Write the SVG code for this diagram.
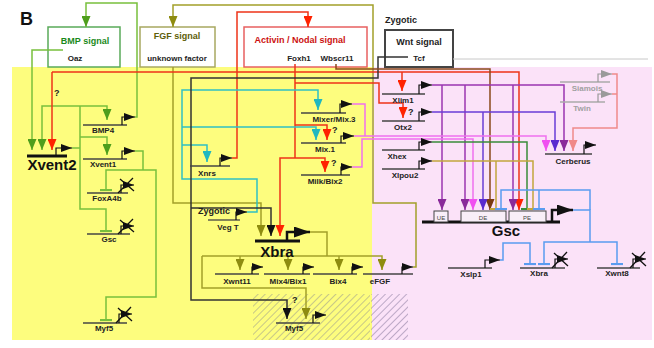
<svg xmlns="http://www.w3.org/2000/svg" width="654" height="348" viewBox="0 0 654 348">
<defs>
<style>
text{font-family:"Liberation Sans",Arial,sans-serif;font-weight:bold}
.lb{font-size:8px;text-anchor:middle;fill:#222}
.big{font-size:15px;text-anchor:middle;fill:#111}
.bl{stroke:#444;stroke-width:1.3;fill:none}
.tb{stroke:#111;stroke-width:3;fill:none}
.pr{stroke:#111;stroke-width:1.2;fill:none;marker-end:url(#pa)}
.pr2{stroke:#111;stroke-width:2.5;fill:none;marker-end:url(#pb)}
.x{stroke:#111;stroke-width:1.3}
.c{fill:none;stroke-width:1.5}
.g{stroke:#78c03c}
.o{stroke:#a3a02a}
.r{stroke:#ee3318}
.cy{stroke:#2fc0c4}
.k{stroke:#333}
.n{stroke:#8b4a1a}
.p{stroke:#9b35b0}
.bp{stroke:#6a3cd6}
.m{stroke:#f070ee}
.dg{stroke:#3a8c3a}
.kh{stroke:#c2a63c}
.s{stroke:#f08a8a}
.b{stroke:#5a9cf0}
.box{fill:#fff;stroke-width:1.5}
</style>
<marker id="aG" viewBox="0 0 11 9" refX="11" refY="4.5" markerWidth="11" markerHeight="9" markerUnits="userSpaceOnUse" orient="auto"><path d="M0,0L11,4.5L0,9z" fill="#4e9e1c"/></marker>
<marker id="aO" viewBox="0 0 11 9" refX="11" refY="4.5" markerWidth="11" markerHeight="9" markerUnits="userSpaceOnUse" orient="auto"><path d="M0,0L11,4.5L0,9z" fill="#8e8c10"/></marker>
<marker id="aR" viewBox="0 0 11 9" refX="11" refY="4.5" markerWidth="11" markerHeight="9" markerUnits="userSpaceOnUse" orient="auto"><path d="M0,0L11,4.5L0,9z" fill="#ff2200"/></marker>
<marker id="aC" viewBox="0 0 11 9" refX="11" refY="4.5" markerWidth="11" markerHeight="9" markerUnits="userSpaceOnUse" orient="auto"><path d="M0,0L11,4.5L0,9z" fill="#20b8c0"/></marker>
<marker id="aK" viewBox="0 0 11 9" refX="11" refY="4.5" markerWidth="11" markerHeight="9" markerUnits="userSpaceOnUse" orient="auto"><path d="M0,0L11,4.5L0,9z" fill="#111"/></marker>
<marker id="aN" viewBox="0 0 11 9" refX="11" refY="4.5" markerWidth="11" markerHeight="9" markerUnits="userSpaceOnUse" orient="auto"><path d="M0,0L11,4.5L0,9z" fill="#7a3a10"/></marker>
<marker id="aP" viewBox="0 0 11 9" refX="11" refY="4.5" markerWidth="11" markerHeight="9" markerUnits="userSpaceOnUse" orient="auto"><path d="M0,0L11,4.5L0,9z" fill="#8a2a9a"/></marker>
<marker id="aBP" viewBox="0 0 11 9" refX="11" refY="4.5" markerWidth="11" markerHeight="9" markerUnits="userSpaceOnUse" orient="auto"><path d="M0,0L11,4.5L0,9z" fill="#5a2ad0"/></marker>
<marker id="aM" viewBox="0 0 11 9" refX="11" refY="4.5" markerWidth="11" markerHeight="9" markerUnits="userSpaceOnUse" orient="auto"><path d="M0,0L11,4.5L0,9z" fill="#f050f0"/></marker>
<marker id="aS" viewBox="0 0 11 9" refX="11" refY="4.5" markerWidth="11" markerHeight="9" markerUnits="userSpaceOnUse" orient="auto"><path d="M0,0L11,4.5L0,9z" fill="#f08888"/></marker>
<marker id="pa" viewBox="0 0 11 8" refX="11" refY="4" markerWidth="11" markerHeight="8" markerUnits="userSpaceOnUse" orient="auto"><path d="M0,0L11,4L0,8z" fill="#111"/></marker>
<marker id="pb" viewBox="0 0 16 11" refX="16" refY="5.5" markerWidth="16" markerHeight="11" markerUnits="userSpaceOnUse" orient="auto"><path d="M0,0L16,5.5L0,11z" fill="#111"/></marker>
<marker id="pg" viewBox="0 0 11 8" refX="11" refY="4" markerWidth="11" markerHeight="8" markerUnits="userSpaceOnUse" orient="auto"><path d="M0,0L11,4L0,8z" fill="#9a9a9a"/></marker>
<marker id="tG" viewBox="0 0 3 12" refX="1.5" refY="6" markerWidth="3" markerHeight="12" markerUnits="userSpaceOnUse" orient="auto"><path d="M1.5,0V12" stroke="#78c03c" stroke-width="2.2"/></marker>
<marker id="tB" viewBox="0 0 3 12" refX="1.5" refY="6" markerWidth="3" markerHeight="12" markerUnits="userSpaceOnUse" orient="auto"><path d="M1.5,0V12" stroke="#5a9cf0" stroke-width="2.2"/></marker>
<marker id="tDG" viewBox="0 0 3 12" refX="1.5" refY="6" markerWidth="3" markerHeight="12" markerUnits="userSpaceOnUse" orient="auto"><path d="M1.5,0V12" stroke="#3a8c3a" stroke-width="2.2"/></marker>
<marker id="tKH" viewBox="0 0 3 12" refX="1.5" refY="6" markerWidth="3" markerHeight="12" markerUnits="userSpaceOnUse" orient="auto"><path d="M1.5,0V12" stroke="#c2a63c" stroke-width="2.2"/></marker>
<pattern id="hY" width="5" height="5" patternUnits="userSpaceOnUse" patternTransform="rotate(45)"><line x1="0" y1="0" x2="0" y2="5" stroke="#a9a98c" stroke-width="1.3"/></pattern>
<pattern id="hP" width="5" height="5" patternUnits="userSpaceOnUse" patternTransform="rotate(45)"><line x1="0" y1="0" x2="0" y2="5" stroke="#9a8aac" stroke-width="1.3"/></pattern>
</defs>

<rect width="654" height="348" fill="#fff"/>
<g id="background">
<rect x="12" y="67" width="360" height="273" fill="#fdfd7e"/>
<rect x="372" y="67" width="280" height="273" fill="#fbe2f8"/>
<rect x="253" y="294" width="117" height="46" fill="url(#hY)"/>
<rect x="371" y="294" width="37" height="46" fill="url(#hP)"/>
</g>
<text x="20" y="25" style="font-size:18px" fill="#111">B</text>

<g id="bmp-signal">
<rect class="box" x="48" y="27" width="72" height="40" stroke="#5aaa5a"/>
<text x="85" y="44" style="font-size:9px" text-anchor="middle" fill="#1a8a1a">BMP signal</text>
<text class="lb" x="75" y="61">Oaz</text>
</g>
<g id="fgf-signal">
<rect class="box" x="140" y="27" width="75" height="40" stroke="#a8a860"/>
<text x="177" y="39" style="font-size:9px" text-anchor="middle" fill="#5e5e08">FGF signal</text>
<text class="lb" x="177" y="61">unknown factor</text>
</g>
<g id="activin-signal">
<rect class="box" x="244" y="27" width="123" height="40" stroke="#e86060"/>
<text x="300" y="43" style="font-size:9px" text-anchor="middle" fill="#cc1010">Activin / Nodal signal</text>
<text class="lb" x="299" y="61">Foxh1</text>
<text class="lb" x="337" y="61">Wbscr11</text>
</g>
<g id="wnt-signal">
<text x="401" y="23" style="font-size:9px" text-anchor="middle" fill="#222">Zygotic</text>
<rect class="box" x="385" y="30" width="68" height="37" stroke="#444" style="stroke-width:2"/>
<text x="419" y="45" style="font-size:9px" text-anchor="middle" fill="#222">Wnt signal</text>
<text class="lb" x="419" y="61">Tcf</text>
</g>

<g id="connectors">
<path d="M453,59H648" stroke="#c8c8c8" stroke-width="1" fill="none"/>
<!-- green -->
<path class="c g" d="M63,50H32V150" marker-end="url(#aG)"/>
<path class="c g" d="M135,117H137V3H86V27" marker-end="url(#aG)"/>
<path class="c g" d="M72,148H80"/>
<path class="c g" d="M80,106V209H106V231" marker-end="url(#tG)"/>
<path class="c g" d="M80,106H42V150" marker-end="url(#aG)"/>
<path class="c g" d="M80,106H107V120" marker-end="url(#aG)"/>
<path class="c g" d="M80,137H107V155" marker-end="url(#aG)"/>
<path class="c g" d="M135,151H143V170"/>
<path class="c g" d="M143,170H106V190" marker-end="url(#tG)"/>
<path class="c g" d="M143,170H156V297H106V320" marker-end="url(#tG)"/>
<!-- olive -->
<path class="c o" d="M173,67V203H261V236" marker-end="url(#aO)"/>
<path class="c o" d="M413,267H416V203H373V5H173V27" marker-end="url(#aO)"/>
<path class="c o" d="M310,232H327V256"/>
<path class="c o" d="M202,256H382V270" marker-end="url(#aO)"/>
<path class="c o" d="M240,256V270" marker-end="url(#aO)"/>
<path class="c o" d="M288,256V270" marker-end="url(#aO)"/>
<path class="c o" d="M339,256V270" marker-end="url(#aO)"/>
<path class="c o" d="M202,256V288H306V319" marker-end="url(#aO)"/>
<!-- red -->
<path class="c r" d="M232,158H237V12H308V27" marker-end="url(#aR)"/>
<path class="c r" d="M52,72V150" marker-end="url(#aR)"/>
<path class="c r" d="M52,72H519V210" marker-end="url(#aR)"/>
<path class="c r" d="M402,72V91" marker-end="url(#aR)"/>
<path class="c r" d="M295,64V158"/>
<path class="c r" d="M295,125H327V140" marker-end="url(#aR)"/>
<path class="c r" d="M295,158H325V172" marker-end="url(#aR)"/>
<path class="c r" d="M295,158H280V236" marker-end="url(#aR)"/>
<path class="c r" d="M295,83H379V103H403V118" marker-end="url(#aR)"/>
<!-- cyan -->
<path class="c cy" d="M247,212H257V179H182V90H318V110" marker-end="url(#aC)"/>
<path class="c cy" d="M182,127H316V140" marker-end="url(#aC)"/>
<path class="c cy" d="M182,145H207V162" marker-end="url(#aC)"/>
<!-- black (Tcf) -->
<path class="c k" d="M408,57H378V78H191V300H287V319" marker-end="url(#aK)"/>
<path class="c k" d="M191,208H271V236" marker-end="url(#aK)"/>
<!-- brown (Wbscr11) -->
<path class="c n" d="M336,64V69H490V210" marker-end="url(#aN)"/>
<!-- purple (Xlim1) -->
<path class="c p" d="M432,85H564V151" marker-end="url(#aP)"/>
<path class="c p" d="M442,85V210" marker-end="url(#aP)"/>
<path class="c p" d="M465,85V210" marker-end="url(#aP)"/>
<path class="c p" d="M513,85V210" marker-end="url(#aP)"/>
<!-- blue-purple (Otx2) -->
<path class="c bp" d="M432,112H555V151" marker-end="url(#aBP)"/>
<path class="c bp" d="M483,112V210" marker-end="url(#aBP)"/>
<!-- magenta (Mixer, Mix.1, Milk) -->
<path class="c m" d="M352,104H365V136"/>
<path class="c m" d="M354,136H546V151" marker-end="url(#aM)"/>
<path class="c m" d="M352,167H362V139H473V210" marker-end="url(#aM)"/>
<!-- Xhex -->
<path class="c dg" d="M432,142H527V209" marker-end="url(#tDG)"/>
<!-- Xlpou2 -->
<path class="c kh" d="M432,161H533V209" marker-end="url(#tKH)"/>
<path class="c kh" d="M496,161V209" marker-end="url(#tKH)"/>
<!-- Siamois / Twin -->
<path class="c s" d="M612,74H617V128H573V151" marker-end="url(#aS)"/>
<path class="c s" d="M612,94H617"/>
<!-- blue (Gsc, Xslp1) -->
<path class="c b" d="M573,210H590V242"/>
<path class="c b" d="M590,210V190H501V209" marker-end="url(#tB)"/>
<path class="c b" d="M539,190V209" marker-end="url(#tB)"/>
<path class="c b" d="M590,242H617V264" marker-end="url(#tB)"/>
<path class="c b" d="M590,242H544V264" marker-end="url(#tB)"/>
<path class="c b" d="M500,260H503V243H530V264" marker-end="url(#tB)"/>
</g>

<g id="question-marks" style="font-size:9px" fill="#222">
<text x="54" y="96">?</text>
<text x="332" y="133">?</text>
<text x="331" y="166">?</text>
<text x="408" y="115">?</text>
<text x="292" y="303">?</text>
</g>

<g id="gene-Xvent2"><path class="tb" d="M27,156H67"/><path class="pr" d="M56,156V148H72"/><text class="big" x="52" y="170">Xvent2</text></g>
<g id="gene-BMP4"><path class="bl" d="M83,125H127"/><path class="pr" d="M122,125V117H135"/><text class="lb" x="103" y="133">BMP4</text></g>
<g id="gene-Xvent1"><path class="bl" d="M83,159H127"/><path class="pr" d="M122,159V151H135"/><text class="lb" x="103" y="167">Xvent1</text></g>
<g id="gene-FoxA4b"><path class="bl" d="M87,193H128"/><path class="pr" d="M121,193V185H134"/><path class="x" d="M118,193L133,178M120,179L134,191"/><text class="lb" x="107" y="201">FoxA4b</text></g>
<g id="gene-Gsc-yellow"><path class="bl" d="M87,234H130"/><path class="pr" d="M121,234V226H134"/><path class="x" d="M118,234L133,219M120,220L134,232"/><text class="lb" x="109" y="242">Gsc</text></g>
<g id="gene-Myf5-yellow"><path class="bl" d="M83,323H127"/><path class="pr" d="M119,323V314H132"/><path class="x" d="M116,323L131,307M118,308L132,321"/><text class="lb" x="104" y="331">Myf5</text></g>
<g id="gene-Xnrs"><path class="bl" d="M190,166H230"/><path class="pr" d="M220,166V158H232"/><text class="lb" x="207" y="176">Xnrs</text></g>
<g id="gene-Mixer"><path class="bl" d="M301,113H346"/><path class="pr" d="M340,113V104H352"/><text class="lb" x="334" y="122">Mixer/Mix.3</text></g>
<g id="gene-Mix1"><path class="bl" d="M301,143H346"/><path class="pr" d="M341,143V136H354"/><text class="lb" x="325" y="152">Mix.1</text></g>
<g id="gene-Milk"><path class="bl" d="M301,175H350"/><path class="pr" d="M341,175V167H352"/><text class="lb" x="325" y="184">Milk/Bix2</text></g>
<g id="gene-VegT"><text x="214" y="214" style="font-size:9px" text-anchor="middle" fill="#222">Zygotic</text><path class="bl" d="M208,220H240"/><path class="pr" d="M236,220V212H247"/><text class="lb" x="228" y="230">Veg T</text></g>
<g id="gene-Xbra"><path class="tb" d="M255,241H300"/><path class="pr2" d="M287,241V232H310"/><text class="big" x="277" y="257">Xbra</text></g>
<g id="gene-Xwnt11"><path class="bl" d="M215,274H259"/><path class="pr" d="M252,274V267H263"/><text class="lb" x="237" y="284">Xwnt11</text></g>
<g id="gene-Mix4"><path class="bl" d="M264,274H310"/><path class="pr" d="M303,274V267H314"/><text class="lb" x="288" y="284">Mix4/Bix1</text></g>
<g id="gene-Bix4"><path class="bl" d="M313,274H357"/><path class="pr" d="M352,274V267H363"/><text class="lb" x="338" y="284">Bix4</text></g>
<g id="gene-eFGF"><path class="bl" d="M363,274H413"/><path class="pr" d="M402,274V267H413"/><text class="lb" x="380" y="284">eFGF</text></g>
<g id="gene-Myf5"><path class="bl" d="M276,323H320"/><path class="pr" d="M313,323V315H326"/><text class="lb" x="294" y="331">Myf5</text></g>
<g id="gene-Xlim1"><path class="bl" d="M382,94H425"/><path class="pr" d="M419,94V85H432"/><text class="lb" x="403" y="103">Xlim1</text></g>
<g id="gene-Otx2"><path class="bl" d="M382,121H425"/><path class="pr" d="M419,121V112H432"/><text class="lb" x="403" y="130">Otx2</text></g>
<g id="gene-Xhex"><path class="bl" d="M382,150H425"/><path class="pr" d="M419,150V142H432"/><text class="lb" x="397" y="159">Xhex</text></g>
<g id="gene-Xlpou2"><path class="bl" d="M382,169H425"/><path class="pr" d="M419,169V161H432"/><text class="lb" x="405" y="178">Xlpou2</text></g>
<g id="gene-Siamois"><path d="M560,82H610" stroke="#aaa" stroke-width="1.3"/><path d="M598,82V74H612" stroke="#9a9a9a" stroke-width="1.2" fill="none" marker-end="url(#pg)"/><text class="lb" x="587" y="91" fill="#a0a0a0" style="fill:#a0a0a0">Siamois</text></g>
<g id="gene-Twin"><path d="M560,102H605" stroke="#aaa" stroke-width="1.3"/><path d="M598,102V94H612" stroke="#9a9a9a" stroke-width="1.2" fill="none" marker-end="url(#pg)"/><text class="lb" x="582" y="111" style="fill:#a0a0a0">Twin</text></g>
<g id="gene-Cerberus"><path class="bl" d="M545,154H592"/><path class="pr" d="M584,154V145H596"/><text class="lb" x="573" y="164">Cerberus</text></g>
<g id="gene-Gsc">
<path class="tb" d="M422,222H560"/>
<rect x="434" y="211" width="14" height="11" fill="#f8eef8" stroke="#444" stroke-width="1"/>
<rect x="461" y="211" width="45" height="11" fill="#f8eef8" stroke="#444" stroke-width="1"/>
<rect x="509" y="211" width="37" height="11" fill="#f8eef8" stroke="#444" stroke-width="1"/>
<text x="441" y="219.5" style="font-size:6px;font-weight:normal" text-anchor="middle" fill="#444">UE</text>
<text x="483" y="219.5" style="font-size:6px;font-weight:normal" text-anchor="middle" fill="#444">DE</text>
<text x="527" y="219.5" style="font-size:6px;font-weight:normal" text-anchor="middle" fill="#444">PE</text>
<path class="pr2" d="M552,222V210H573"/>
<text class="big" x="506" y="236">Gsc</text>
</g>
<g id="gene-Xslp1"><path class="bl" d="M448,268H492"/><path class="pr" d="M485,268V260H500"/><text class="lb" x="471" y="277">Xslp1</text></g>
<g id="gene-Xbra-pink"><path class="bl" d="M520,268H565"/><path class="pr" d="M555,268V259H568"/><path class="x" d="M552,268L567,252M554,253L568,266"/><text class="lb" x="539" y="276">Xbra</text></g>
<g id="gene-Xwnt8"><path class="bl" d="M597,268H640"/><path class="pr" d="M633,268V259H646"/><path class="x" d="M630,268L645,252M632,253L646,266"/><text class="lb" x="617" y="276">Xwnt8</text></g>
</svg>
